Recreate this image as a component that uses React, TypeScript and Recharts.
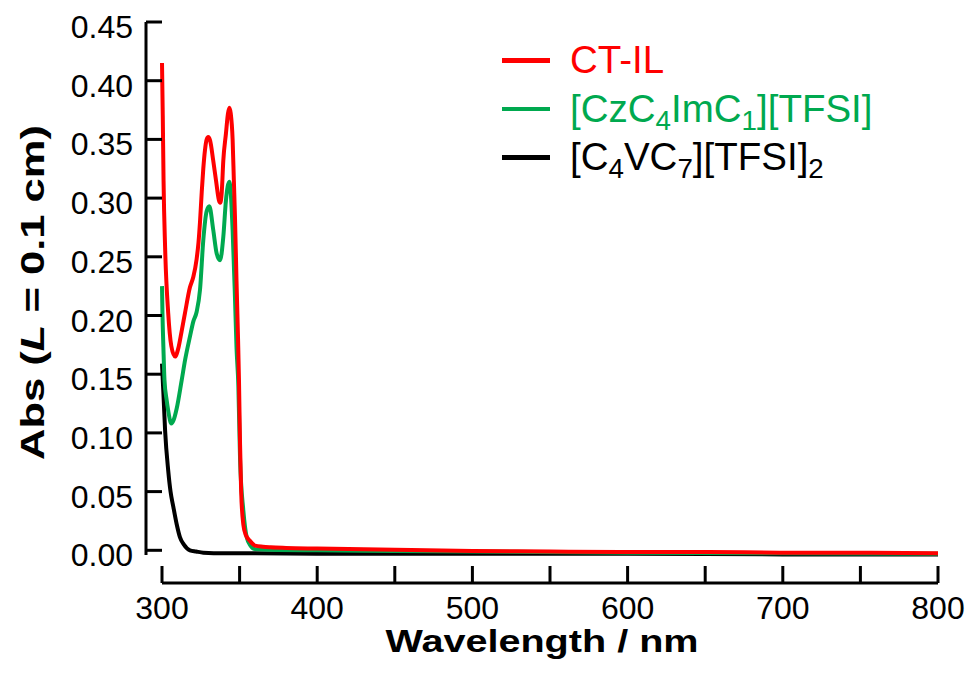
import React from 'react';
import { LineChart, Line, XAxis, YAxis, Legend } from 'recharts';

// UV-vis absorbance spectra
const ctilWavelength = [
  300, 300.5, 301, 302, 304, 306, 308.4, 310.5, 312.7, 314.8, 318, 320.2, 322.3, 323.5, 324.5, 325.6,
  326.6, 327.7, 328.8, 329.8, 331, 333, 334.8, 336.7, 337.5, 338.5, 339.5, 341.2, 342.5, 343.4, 344.3,
  345.5, 346.3, 347, 348, 349, 349.6, 350.3, 351, 352.4, 354, 356.7, 360, 365, 370, 380, 400,
  450, 500, 550, 600, 650, 700, 750, 800,
];
const ctilAbs = [
  0.415, 0.37, 0.315, 0.258, 0.202, 0.174, 0.165, 0.172, 0.187, 0.202, 0.224, 0.233, 0.248, 0.262, 0.28, 0.305,
  0.325, 0.341, 0.35, 0.352, 0.349, 0.332, 0.315, 0.298, 0.296, 0.305, 0.332, 0.355, 0.372, 0.377, 0.372,
  0.35, 0.315, 0.285, 0.23, 0.18, 0.145, 0.09, 0.05, 0.022, 0.013, 0.008, 0.004, 0.003, 0.0025, 0.002, 0.0015,
  0.0005, -0.0005, -0.001, -0.0015, -0.0015, -0.002, -0.002, -0.0025,
];

const czWavelength = [
  300, 300.3, 300.9, 301.6, 303, 304, 306, 307.5, 309.5, 312.7, 315, 318, 320.2, 322.3, 324.5,
  326.6, 328.8, 330.5, 333, 335.2, 337.4, 339.5, 341.2, 343.4, 345.5, 347, 348, 349.2, 350.3,
  352.4, 354.6, 357, 360, 370, 400, 450, 500, 600, 700, 800,
];
const czAbs = [
  0.225, 0.202, 0.173, 0.145, 0.128, 0.119, 0.108, 0.111, 0.121, 0.145, 0.163, 0.182, 0.195, 0.203, 0.222,
  0.264, 0.289, 0.293, 0.273, 0.253, 0.247, 0.267, 0.298, 0.314, 0.273, 0.216, 0.173, 0.14, 0.077,
  0.034, 0.011, 0.004, 0.001, 0.0005, 0, -0.0005, -0.001, -0.002, -0.0025, -0.003,
];

const c4vWavelength = [
  300, 300.5, 300.9, 302, 304, 305.5, 307.3, 309.5, 311.6, 314, 318, 322, 326.6, 340, 360, 400,
  500, 600, 700, 800,
];
const c4vAbs = [
  0.159, 0.145, 0.134, 0.102, 0.068, 0.05, 0.037, 0.022, 0.011, 0.005, 0, -0.001, -0.002, -0.0025, -0.0025, -0.003,
  -0.003, -0.003, -0.0035, -0.0035,
];

const seriesNames = ['CT-IL', '[CzC4ImC1][TFSI]', '[C4VC7][TFSI]2'];
const seriesColors = ['#FF0000', '#00A94F', '#000000'];

const xTicks = [300, 350, 400, 450, 500, 550, 600, 650, 700, 750, 800];
const yTicks = [0, 0.05, 0.1, 0.15, 0.2, 0.25, 0.3, 0.35, 0.4, 0.45];

const FONT = '"Liberation Sans", Arial, Helvetica, sans-serif';

const toPoints = (wl: number[], abs: number[]) => wl.map((w, i) => ({ wl: w, abs: abs[i] }));

const series = [
  { name: seriesNames[0], color: seriesColors[0], data: toPoints(ctilWavelength, ctilAbs) },
  { name: seriesNames[1], color: seriesColors[1], data: toPoints(czWavelength, czAbs) },
  { name: seriesNames[2], color: seriesColors[2], data: toPoints(c4vWavelength, c4vAbs) },
];

// every digit in a compound name is a subscript
const formatName = (name: string) =>
  name.split(/(\d)/).map((part, i) =>
    /\d/.test(part) ? (
      <sub key={i} style={{ fontSize: '0.72em', verticalAlign: '-0.28em', lineHeight: 0 }}>{part}</sub>
    ) : (
      <span key={i}>{part}</span>
    )
  );

const YTick = (props: any) => {
  const { x, y, payload } = props;
  return (
    <g>
      <line x1={x} x2={x + 16} y1={y} y2={y} stroke="#000" strokeWidth={3} />
      <text x={x - 13} y={y + 16} textAnchor="end" fontSize={32} fill="#000" fontFamily={FONT}>
        {Number(payload.value).toFixed(2)}
      </text>
    </g>
  );
};

const XTick = (props: any) => {
  const { x, y, payload } = props;
  return (
    <g>
      <line x1={x} x2={x} y1={y} y2={y - 17} stroke="#000" strokeWidth={3} />
      {payload.value % 100 === 0 && (
        <text x={x} y={y + 36} textAnchor="middle" fontSize={32} fill="#000" fontFamily={FONT}>
          {payload.value}
        </text>
      )}
    </g>
  );
};

const XTitle = (props: any) => {
  const vb = props.viewBox;
  return (
    <text
      x={vb.x + vb.width / 2 - 8}
      y={vb.y + 69}
      textAnchor="middle"
      fontSize={32}
      fontWeight="bold"
      fill="#000"
      fontFamily={FONT}
      textLength={313}
      lengthAdjust="spacingAndGlyphs"
    >
      Wavelength / nm
    </text>
  );
};

const YTitle = (props: any) => {
  const vb = props.viewBox;
  const cx = vb.x + 32;
  const cy = vb.y + vb.height / 2 + 4;
  return (
    <text
      x={cx}
      y={cy}
      transform={`rotate(-90 ${cx} ${cy})`}
      textAnchor="middle"
      dominantBaseline="central"
      fontSize={33}
      fontWeight="bold"
      fill="#000"
      fontFamily={FONT}
      textLength={335}
      lengthAdjust="spacingAndGlyphs"
    >
      Abs (<tspan fontStyle="italic">L</tspan> = 0.1 cm)
    </text>
  );
};

const renderLegend = () => (
  <div style={{ fontFamily: FONT, fontSize: 38.5 }}>
    {series.map((s) => (
      <div key={s.name} style={{ display: 'flex', alignItems: 'center', height: 48.5, color: s.color }}>
        <div style={{ width: 48, height: 4.5, background: s.color, marginRight: 20 }} />
        <div style={{ lineHeight: 1, whiteSpace: 'nowrap' }}>{formatName(s.name)}</div>
      </div>
    ))}
  </div>
);

export default function App() {
  return (
    <div style={{ position: 'absolute', left: 0, top: 0, width: 976, height: 675, background: '#fff' }}>
      <LineChart width={976} height={675} margin={{ top: 22, right: 38, bottom: 0, left: 0 }}>
        <XAxis xAxisId="gap" type="number" domain={[300, 800]} height={28} axisLine={false} tickLine={false} tick={false} />
        <XAxis
          xAxisId="wl"
          type="number"
          dataKey="wl"
          domain={[300, 800]}
          ticks={xTicks}
          interval={0}
          height={92}
          tickSize={0}
          tickMargin={0}
          tick={XTick}
          axisLine={{ stroke: '#000', strokeWidth: 3 }}
          label={XTitle}
        />
        <YAxis yAxisId="gap" type="number" domain={[0, 1]} width={16} axisLine={false} tickLine={false} tick={false} />
        <YAxis
          yAxisId="yabs"
          type="number"
          domain={[-0.004, 0.45]}
          ticks={yTicks}
          interval={0}
          width={146}
          tickSize={0}
          tickMargin={0}
          tick={YTick}
          axisLine={{ stroke: '#000', strokeWidth: 3 }}
          label={YTitle}
        />
        <Legend
          content={renderLegend}
          layout="vertical"
          align="center"
          verticalAlign="middle"
          wrapperStyle={{ left: 502, top: 36, width: 440 }}
        />
        {[...series].reverse().map((s) => (
          <Line
            key={s.name}
            xAxisId="wl"
            yAxisId="yabs"
            data={s.data}
            dataKey="abs"
            name={s.name}
            type="monotone"
            stroke={s.color}
            strokeWidth={4}
            dot={false}
            activeDot={false}
            isAnimationActive={false}
          />
        ))}
      </LineChart>
    </div>
  );
}
